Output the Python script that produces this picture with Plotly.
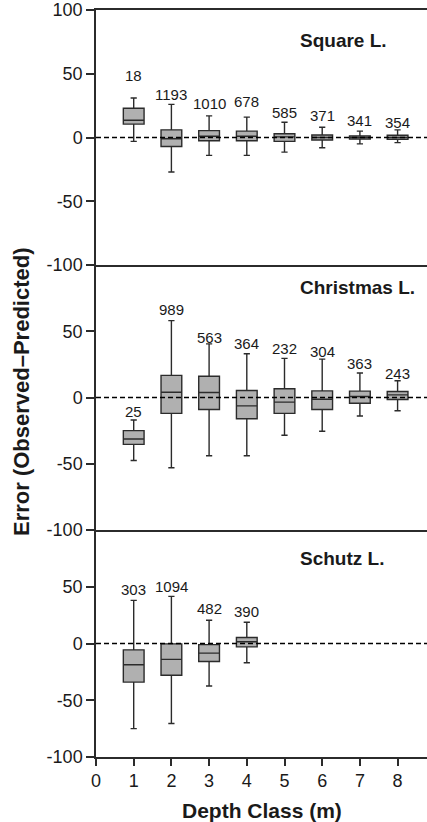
import plotly.graph_objects as go
from plotly.subplots import make_subplots

# ---------------- data ----------------
lakes = ["Square L.", "Christmas L.", "Schutz L."]

sq_x = [1, 2, 3, 4, 5, 6, 7, 8]
sq_lo = [-3, -27, -14, -14, -11.5, -8, -5, -4]
sq_q1 = [10.5, -7, -2.5, -2.5, -3, -2, -1.3, -1.5]
sq_med = [13.5, -1, 1, 1, 0.5, 0, 0, 0]
sq_q3 = [23, 6, 5.4, 5, 3, 2, 1.3, 1.8]
sq_hi = [31, 26, 17, 16, 12, 8, 5, 6]
sq_n = ["18", "1193", "1010", "678", "585", "371", "341", "354"]
sq_label_y = [49, 34, 27, 28, 20, 17, 13, 12]

ch_x = [1, 2, 3, 4, 5, 6, 7, 8]
ch_lo = [-47.5, -53, -44, -44, -28.5, -25.5, -14, -10]
ch_q1 = [-35.4, -12, -9, -16, -12, -9, -4.3, -1.5]
ch_med = [-31.3, 4, 3.8, -6.3, -3.5, -1.3, 0.8, 2]
ch_q3 = [-25, 16.7, 16, 5.3, 6.6, 5, 4.8, 4.5]
ch_hi = [-17, 58, 40.5, 33, 29.5, 29, 18.5, 12.6]
ch_n = ["25", "989", "563", "364", "232", "304", "363", "243"]
ch_label_y = [-10.5, 66.5, 45.5, 40.5, 37, 35, 26, 18]

sc_x = [1, 2, 3, 4]
sc_lo = [-75, -70.5, -37.5, -17]
sc_q1 = [-34, -28, -15.8, -3]
sc_med = [-18.7, -14, -8.5, 1.5]
sc_q3 = [-5.6, -0.3, -1, 5.3]
sc_hi = [38, 41.5, 20.5, 18.7]
sc_n = ["303", "1094", "482", "390"]
sc_label_y = [48, 50, 30.5, 28.5]

x_ticks = [0, 1, 2, 3, 4, 5, 6, 7, 8]
y_ticks_top = [-100, -50, 0, 50, 100]
y_ticks = [-100, -50, 0, 50]

# ---------------- figure ----------------
FONT = "Liberation Sans, Arial, sans-serif"
LINE = "#2b2b2b"
FILL = "#b0b0b0"

fig = make_subplots(rows=3, cols=1, shared_xaxes=True, vertical_spacing=0,
                    row_heights=[255, 265, 227])

panels = [
    (sq_x, sq_lo, sq_q1, sq_med, sq_q3, sq_hi, sq_n, sq_label_y, 76),
    (ch_x, ch_lo, ch_q1, ch_med, ch_q3, ch_hi, ch_n, ch_label_y, 83),
    (sc_x, sc_lo, sc_q1, sc_med, sc_q3, sc_hi, sc_n, sc_label_y, 75),
]

for i, (xs, lo, q1, med, q3, hi, ns, ly, ty) in enumerate(panels):
    row = i + 1
    fig.add_trace(go.Box(
        x=xs, lowerfence=lo, q1=q1, median=med, q3=q3, upperfence=hi,
        fillcolor=FILL, line=dict(color=LINE, width=1.4),
        width=0.55, whiskerwidth=0.3, boxpoints=False, showlegend=False,
        hoverinfo="skip",
    ), row=row, col=1)
    fig.add_hline(y=0, line=dict(color="black", width=1.6, dash="5px,3px"),
                  row=row, col=1, layer="above")
    yref = "y" if row == 1 else f"y{row}"
    xref = "x" if row == 1 else f"x{row}"
    for xv, n, yv in zip(xs, ns, ly):
        fig.add_annotation(x=xv, y=yv, xref=xref, yref=yref, text=n,
                           showarrow=False, font=dict(size=15, family=FONT, color="#1a1a1a"))
    fig.add_annotation(x=5.36, y=ty, xref=xref, yref=yref, text=f"<b>{lakes[i]}</b>",
                       xanchor="left", showarrow=False,
                       font=dict(size=19, family=FONT, color="#1a1a1a"))
    fig.update_yaxes(
        range=[-100, 100],
        tickvals=y_ticks_top if row == 1 else y_ticks,
        ticktext=[str(v) for v in (y_ticks_top if row == 1 else y_ticks)],
        ticks="outside", ticklen=8, tickwidth=1.5, tickcolor=LINE,
        showline=True, linecolor=LINE, linewidth=1.5,
        showgrid=False, zeroline=False,
        tickfont=dict(size=18, family=FONT, color="#1a1a1a"),
        row=row, col=1)
    fig.update_xaxes(
        range=[0, 8.78], showline=True, linecolor=LINE, linewidth=1.5,
        showgrid=False, zeroline=False,
        mirror=(row == 1),
        tickvals=x_ticks, ticktext=[str(v) for v in x_ticks],
        ticks="outside" if row == 3 else "", ticklen=7, tickwidth=1.5, tickcolor=LINE,
        showticklabels=(row == 3),
        tickfont=dict(size=18, family=FONT, color="#1a1a1a"),
        row=row, col=1)

fig.add_annotation(x=0.5, y=0, xref="paper", yref="paper", yanchor="top", yshift=-40,
                   text="<b>Depth Class (m)</b>", showarrow=False,
                   font=dict(size=21, family=FONT, color="#1a1a1a"))
fig.add_annotation(x=0, y=0.4886, xref="paper", yref="paper", xshift=-75,
                   xanchor="center", yanchor="middle",
                   text="<b>Error (Observed\u2013Predicted)</b>", textangle=-90,
                   showarrow=False, font=dict(size=22, family=FONT, color="#1a1a1a"))

fig.update_layout(
    width=427, height=822,
    margin=dict(l=96, r=0, t=10, b=65),
    paper_bgcolor="white", plot_bgcolor="white",
    font=dict(family=FONT),
)

fig.write_html("out.html")
